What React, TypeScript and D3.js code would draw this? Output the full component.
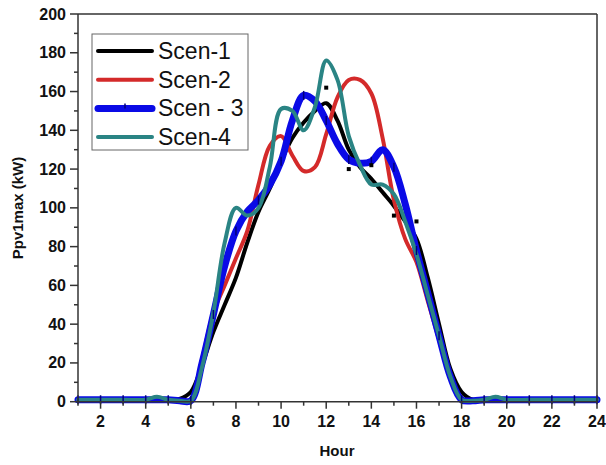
import React from "react";
import * as d3 from "d3";

const hours = [1, 2, 3, 4, 4.5, 5, 5.5, 6, 6.5, 7, 7.5, 8, 8.5, 9, 9.5, 10, 10.5, 11, 11.5, 12, 12.5, 13, 13.5, 14, 14.5, 15, 15.5, 16, 16.5, 17, 17.5, 18, 18.5, 19, 19.5, 20, 21, 22, 23, 24];

const scen1 = [1, 1, 1, 1, 1, 1, 1.5, 5, 19, 36, 50, 64, 82, 98, 110, 124, 136, 144, 150, 154, 145, 130, 121, 115, 108, 101, 93, 84, 64, 40, 17, 5, 1, 1, 1, 1, 1, 1, 1, 1];
const scen2 = [1, 1, 1, 1, 1, 1, 0.5, 1, 22, 46, 60, 74, 88, 112, 132, 137, 127, 119, 121, 138, 157, 166, 166, 159, 136, 104, 84, 72, 52, 32, 12, 1, 0.5, 1, 1, 1, 1, 1, 1, 1];
const scen3 = [1, 1, 1, 1, 1, 1, 0.5, 0.5, 20, 45, 70, 88, 98, 104, 112, 124, 145, 158, 155, 145, 133, 125, 123, 124, 130, 121, 102, 78, 56, 34, 13, 1, 0.5, 1, 1, 1, 1, 1, 1, 1];
const scen4 = [1, 1, 1, 1, 2.5, 1, 0.5, 0.5, 18, 46, 82, 100, 96, 100, 121, 151, 150, 140, 152, 176, 166, 137, 122, 112, 112, 107, 93, 76, 55, 34, 13, 1, 0.5, 1, 2.5, 1, 1, 1, 1, 1];

const dotHours = [12, 13, 14, 15, 16];
const dotValues = [162, 120, 122, 96, 93];

const markerHours = [1, 2, 3, 4, 5, 6, 7, 8, 9, 10, 11, 12, 13, 14, 15, 16, 17, 18, 19, 20, 21, 22, 23, 24];

const xTicks = [2, 4, 6, 8, 10, 12, 14, 16, 18, 20, 22, 24];
const xMinor = [1, 3, 5, 7, 9, 11, 13, 15, 17, 19, 21, 23];
const yTicks = [0, 20, 40, 60, 80, 100, 120, 140, 160, 180, 200];
const yMinor = [10, 30, 50, 70, 90, 110, 130, 150, 170, 190];

const seriesNames = ["Scen-1", "Scen-2", "Scen - 3", "Scen-4"];
const seriesColors = ["#000000", "#d42a2a", "#0a0ae6", "#2a8484"];
const seriesWidths = [4, 4, 7, 4];

const W = 606;
const H = 465;
const FONT = "'Liberation Sans', Arial, sans-serif";

export default function App() {
  const x = d3.scaleLinear().domain([1, 24]).range([78, 597]);
  const y = d3.scaleLinear().domain([0, 200]).range([401.7, 14]);
  const allSeries = [scen1, scen2, scen3, scen4];

  const line = d3
    .line<number>()
    .x((_, i) => x(hours[i]))
    .y((d) => y(d))
    .curve(d3.curveCatmullRom.alpha(0.5));

  const x0 = x(1);
  const x1 = x(24);
  const y0 = y(0);
  const y1 = y(200);

  const valueAt = (arr: number[], h: number) => arr[hours.indexOf(h)];

  return (
    <svg
      width={W}
      height={H}
      style={{ position: "absolute", left: 0, top: 0, background: "#fff" }}
    >
      <rect x={0} y={0} width={W} height={H} fill="#fff" />
      <g fill="none" strokeLinejoin="round" strokeLinecap="round">
        {allSeries.map((s, k) => (
          <path
            key={k}
            d={line(s) || ""}
            stroke={seriesColors[k]}
            strokeWidth={seriesWidths[k]}
          />
        ))}
      </g>
      <g stroke="#00007a" strokeWidth={1.5}>
        {markerHours.map((h) => (
          <line
            key={"m" + h}
            x1={x(h)}
            x2={x(h)}
            y1={y(valueAt(scen3, h)) - 4.5}
            y2={y(valueAt(scen3, h)) + 4.5}
          />
        ))}
      </g>
      <g fill="#000">
        {dotHours.map((h, i) => (
          <rect key={"d" + i} x={x(h) - 2} y={y(dotValues[i]) - 2} width={4} height={4} />
        ))}
      </g>
      <g stroke="#333" strokeWidth={1.5} fill="none">
        <line x1={x0} x2={x1} y1={y0} y2={y0} />
        <line x1={x0} x2={x0} y1={y0} y2={y1} />
        <line x1={x0} x2={x1} y1={y1} y2={y1} />
        <line x1={x1} x2={x1} y1={y0} y2={y1} />
      </g>
      <g stroke="#333" strokeWidth={1.5}>
        {xTicks.map((t) => (
          <line key={"xt" + t} x1={x(t)} x2={x(t)} y1={y0} y2={y0 + 7} />
        ))}
        {xMinor.map((t) => (
          <line key={"xm" + t} x1={x(t)} x2={x(t)} y1={y0} y2={y0 + 4} />
        ))}
        {yTicks.map((t) => (
          <line key={"yt" + t} x1={x0 - 8} x2={x0} y1={y(t)} y2={y(t)} />
        ))}
        {yMinor.map((t) => (
          <line key={"ym" + t} x1={x0 - 4} x2={x0} y1={y(t)} y2={y(t)} />
        ))}
      </g>
      <g fontFamily={FONT} fontWeight="bold" fontSize={16} fill="#111">
        {xTicks.map((t) => (
          <text key={"xl" + t} x={x(t)} y={427} textAnchor="middle">
            {t}
          </text>
        ))}
        {yTicks.map((t) => (
          <text key={"yl" + t} x={66} y={y(t) + 5.5} textAnchor="end">
            {t}
          </text>
        ))}
      </g>
      <text
        x={337}
        y={456}
        textAnchor="middle"
        fontFamily={FONT}
        fontWeight="bold"
        fontSize={15}
        fill="#111"
      >
        Hour
      </text>
      <text
        transform={`translate(23, ${208}) rotate(-90)`}
        textAnchor="middle"
        fontFamily={FONT}
        fontWeight="bold"
        fontSize={15}
        fill="#111"
      >
        Ppv1max (kW)
      </text>
      <g>
        <rect x={92} y={34} width={156} height={116} fill="#fff" stroke="#666" strokeWidth={1} />
        {seriesNames.map((n, k) => {
          const ly = 51 + k * 28.7;
          return (
            <g key={"lg" + k}>
              <line
                x1={98}
                x2={152}
                y1={ly}
                y2={ly}
                stroke={seriesColors[k]}
                strokeWidth={seriesWidths[k]}
                strokeLinecap="round"
              />
              {k === 2 && (
                <line x1={125} x2={125} y1={ly - 5} y2={ly} stroke="#00007a" strokeWidth={1.5} />
              )}
              <text x={158} y={ly + 8} fontFamily={FONT} fontSize={23} fill="#111">
                {n}
              </text>
            </g>
          );
        })}
      </g>
    </svg>
  );
}
